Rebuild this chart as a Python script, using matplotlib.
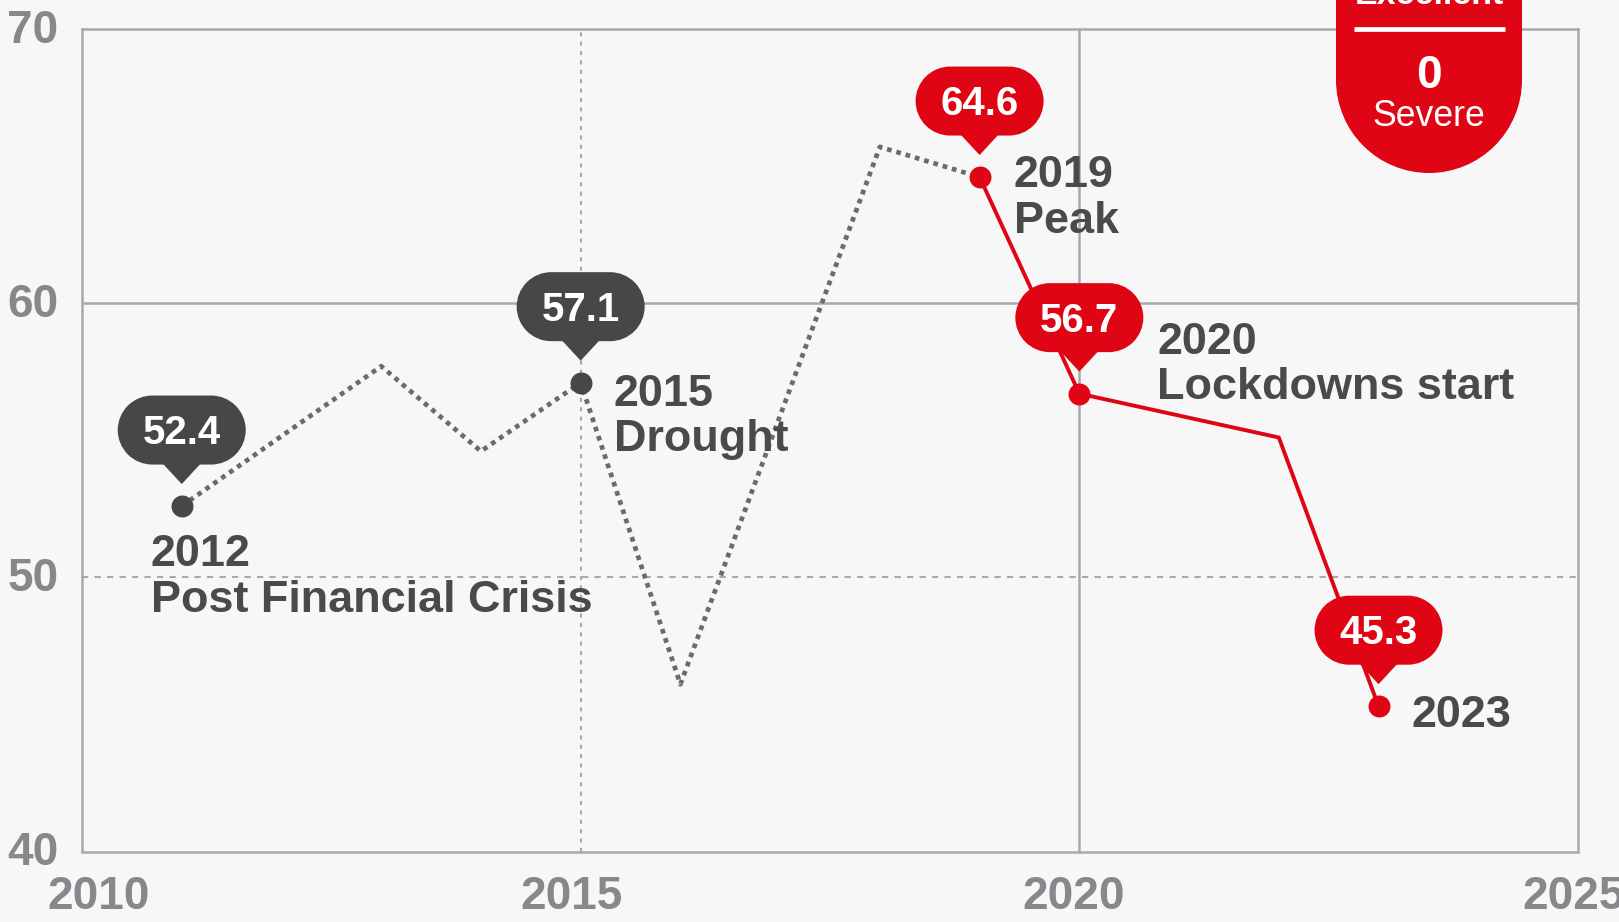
import matplotlib
matplotlib.use('Agg')
import matplotlib.pyplot as plt
import matplotlib.transforms as mtransforms
from matplotlib.patches import PathPatch, Polygon
from matplotlib.path import Path
from matplotlib.lines import Line2D

plt.rcParams['font.family'] = ['Liberation Sans', 'DejaVu Sans']

# ---------------- data ----------------
years_hist = [2011, 2013, 2014, 2015, 2016, 2018, 2019]
values_hist = [52.6, 57.7, 54.6, 57.1, 46.1, 65.7, 64.6]

years_recent = [2019, 2020, 2022, 2023]
values_recent = [64.6, 56.7, 55.1, 45.3]

callout_years = [2011, 2015, 2019, 2020, 2023]
callout_values = [52.6, 57.1, 64.6, 56.7, 45.3]
callout_labels = ['52.4', '57.1', '64.6', '56.7', '45.3']
callout_is_recent = [False, False, True, True, True]
event_texts = ['2012\nPost Financial Crisis', '2015\nDrought', '2019\nPeak',
               '2020\nLockdowns start', '2023']

x_ticks = [2010, 2015, 2020, 2025]
y_ticks = [40, 50, 60, 70]

badge_top = 'Excellent'
badge_count = '0'
badge_bottom = 'Severe'

# ---------------- style ----------------
BG = '#f7f7f7'
RED = '#e00514'
DARK = '#474747'
TXT = '#4a4a4a'
TICK = '#87888c'
GRID = '#a9a9ad'
DOTLINE = '#6b6b6b'

W, H = 1619, 922
fig = plt.figure(figsize=(W / 100, H / 100), dpi=100)
fig.patch.set_facecolor(BG)
ax = fig.add_axes([82 / W, 1 - 851.5 / H, (1578 - 82) / W, (851.5 - 29) / H])
ax.set_facecolor(BG)
ax.set_xlim(x_ticks[0], x_ticks[-1])
ax.set_ylim(y_ticks[0], y_ticks[-1])

for s in ax.spines.values():
    s.set_color(GRID)
    s.set_linewidth(1.8)

ax.set_xticks(x_ticks)
ax.set_yticks(y_ticks)
ax.tick_params(length=0, labelsize=33, labelcolor=TICK, pad=17)
for lab in ax.get_xticklabels() + ax.get_yticklabels():
    lab.set_fontweight('bold')
x_offsets = [17, -9, -6, -4]
for lab, dx in zip(ax.get_xticklabels(), x_offsets):
    lab.set_transform(lab.get_transform() +
                      mtransforms.ScaledTranslation(dx / 100, 0, fig.dpi_scale_trans))
for lab in ax.get_yticklabels():
    lab.set_transform(lab.get_transform() +
                      mtransforms.ScaledTranslation(0, 3 / 100, fig.dpi_scale_trans))

# grid: solid at 60 / 2020, dotted at 50 / 2015
ax.axhline(y_ticks[2], color=GRID, lw=1.8, zorder=1)
ax.axvline(x_ticks[2], color=GRID, lw=1.8, zorder=1)
ax.axhline(y_ticks[1], color=GRID, lw=1.5, ls=(0, (3, 3)), zorder=1)
ax.axvline(x_ticks[1], color=GRID, lw=1.5, ls=(0, (2, 2.5)), zorder=1)

# lines
ax.plot(years_hist, values_hist, color=DOTLINE, lw=3.4, ls=(0, (1, 1.05)),
        dash_capstyle='butt', zorder=2)
ax.plot(years_recent, values_recent, color=RED, lw=2.8, zorder=3,
        solid_joinstyle='miter')

# markers
for x, y, rec in zip(callout_years, callout_values, callout_is_recent):
    ax.plot([x], [y], 'o', ms=15.8, color=RED if rec else DARK,
            mec='none', zorder=4)


def stadium_path(width, height):
    r = height / 2.0
    half = width / 2.0 - r
    left = Path.arc(90, 270)
    right = Path.arc(-90, 90)
    lv = left.vertices * r + [-half, 0]
    rv = right.vertices * r + [half, 0]
    verts = list(lv) + list(rv) + [lv[0]]
    codes = ([Path.MOVETO] + list(left.codes[1:]) + [Path.LINETO] +
             list(right.codes[1:]) + [Path.CLOSEPOLY])
    return Path(verts, codes)


# callout bubbles
BW, BH, BOFF = 128, 69, 76
TRI_W, TIP = 38, 22
bubble = stadium_path(BW, BH)
for x, y, lab, rec in zip(callout_years, callout_values, callout_labels, callout_is_recent):
    col = RED if rec else DARK
    tr = (mtransforms.Affine2D().translate(0, BOFF) +
          mtransforms.ScaledTranslation(x, y, ax.transData))
    ax.add_patch(PathPatch(bubble, fc=col, ec='none', transform=tr, zorder=5, clip_on=False))
    tr2 = mtransforms.IdentityTransform() + mtransforms.ScaledTranslation(x, y, ax.transData)
    tri = Polygon([(-TRI_W / 2, BOFF - BH / 2 + 1), (TRI_W / 2, BOFF - BH / 2 + 1), (0, TIP)],
                  closed=True, fc=col, ec='none', transform=tr2, zorder=5, clip_on=False)
    ax.add_patch(tri)
    ax.annotate(lab, xy=(x, y), xytext=(0, BOFF - 14), textcoords='offset pixels',
                ha='center', va='baseline', color='white', fontsize=29,
                fontweight='bold', zorder=6)

# event labels
text_offsets = [(-31, -28), (33, 9), (34, 22), (78, 72), (33, 11)]
for x, y, t, (dx, dy) in zip(callout_years, callout_values, event_texts, text_offsets):
    ax.annotate(t, xy=(x, y), xytext=(dx, dy), textcoords='offset pixels',
                ha='left', va='top', color=TXT, fontsize=32.4, fontweight='bold',
                linespacing=1.15, zorder=6)

# badge top-right (figure pixel coords): straight sides with semicircular bottom
arc = Path.arc(180, 360)
bverts = [(-1, 3)] + list(arc.vertices) + [(1, 3), (-1, 3)]
bcodes = [Path.MOVETO, Path.LINETO] + list(arc.codes[1:]) + [Path.LINETO, Path.CLOSEPOLY]
badge_path = Path(bverts, bcodes)
btr = mtransforms.Affine2D().scale(93).translate(1429, H - 80)
fig.add_artist(PathPatch(badge_path, fc=RED, ec='none', transform=btr, zorder=10))
pix = mtransforms.IdentityTransform()
fig.add_artist(Line2D([1354, 1505], [H - 28.5, H - 28.5], color='white', lw=3.4,
                      transform=pix, zorder=11, solid_capstyle='butt'))
fig.text(1429, H - 4, badge_top, transform=pix, ha='center', va='baseline',
         color='white', fontsize=24.5, fontweight='bold', zorder=11)
fig.text(1429, H - 88, badge_count, transform=pix, ha='center', va='baseline',
         color='white', fontsize=33, fontweight='bold', zorder=11)
fig.text(1429, H - 126, badge_bottom, transform=pix, ha='center', va='baseline',
         color='white', fontsize=25.7, zorder=11)

fig.savefig('out.png', dpi=100, facecolor=BG)
